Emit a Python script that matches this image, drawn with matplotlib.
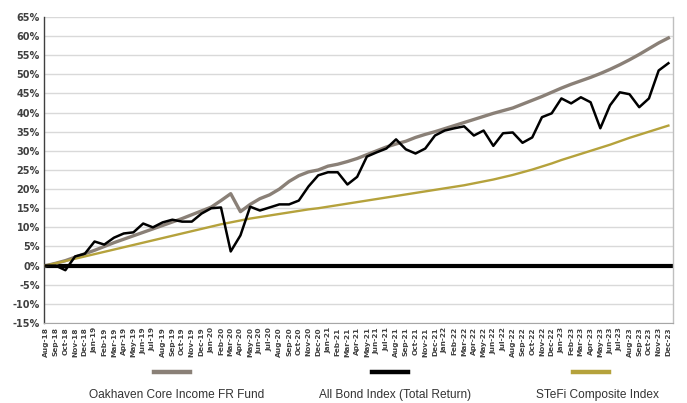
import matplotlib
matplotlib.use("Agg")
import matplotlib.pyplot as plt
from matplotlib.lines import Line2D

months = ["Aug-18","Sep-18","Oct-18","Nov-18","Dec-18",
          "Jan-19","Feb-19","Mar-19","Apr-19","May-19","Jun-19","Jul-19","Aug-19","Sep-19","Oct-19","Nov-19","Dec-19",
          "Jan-20","Feb-20","Mar-20","Apr-20","May-20","Jun-20","Jul-20","Aug-20","Sep-20","Oct-20","Nov-20","Dec-20",
          "Jan-21","Feb-21","Mar-21","Apr-21","May-21","Jun-21","Jul-21","Aug-21","Sep-21","Oct-21","Nov-21","Dec-21",
          "Jan-22","Feb-22","Mar-22","Apr-22","May-22","Jun-22","Jul-22","Aug-22","Sep-22","Oct-22","Nov-22","Dec-22",
          "Jan-23","Feb-23","Mar-23","Apr-23","May-23","Jun-23","Jul-23","Aug-23","Sep-23","Oct-23","Nov-23","Dec-23"]

oakhaven = [0, 0.6, 1.3, 2.2, 3.1, 4.0, 5.0, 6.0, 6.9, 7.8, 8.7, 9.6, 10.5, 11.4, 12.3, 13.3, 14.3,
            15.3, 17.0, 18.8, 14.1, 16.0, 17.5, 18.5, 20.0, 22.0, 23.5, 24.5, 25.0, 26.0, 26.5, 27.2,
            28.0, 29.0, 30.0, 31.0, 31.8, 32.5, 33.5, 34.3, 35.0, 35.8, 36.6, 37.4, 38.2, 39.0, 39.8,
            40.5, 41.2, 42.2, 43.2, 44.2, 45.3, 46.4, 47.4, 48.3, 49.2, 50.2, 51.3, 52.5, 53.8, 55.2,
            56.7, 58.2, 59.5]

all_bond = [0, 0, -1.2, 2.4, 3.1, 6.3, 5.5, 7.3, 8.4, 8.7, 11.0, 10.0, 11.3, 12.0, 11.5, 11.5, 13.6,
            15.0, 15.2, 3.7, 7.9, 15.4, 14.4, 15.2, 16.0, 16.0, 17.0, 20.7, 23.6, 24.4, 24.4, 21.2,
            23.2, 28.5, 29.6, 30.6, 33.0, 30.4, 29.3, 30.6, 34.0, 35.3, 35.9, 36.4, 34.0, 35.3, 31.3,
            34.6, 34.8, 32.1, 33.5, 38.8, 39.8, 43.7, 42.4, 44.0, 42.7, 35.9, 41.9, 45.3, 44.8, 41.4,
            43.7, 51.0, 52.9]

stefi = [0, 0.6, 1.2, 1.8, 2.4, 3.0, 3.6, 4.2, 4.8, 5.4, 6.0, 6.6, 7.2, 7.8, 8.4, 9.0, 9.6,
         10.2, 10.8, 11.3, 11.8, 12.3, 12.7, 13.1, 13.5, 13.9, 14.3, 14.7, 15.0, 15.4, 15.8, 16.2,
         16.6, 17.0, 17.4, 17.8, 18.2, 18.6, 19.0, 19.4, 19.8, 20.2, 20.6, 21.0, 21.5, 22.0, 22.5,
         23.1, 23.7, 24.4, 25.1, 25.9, 26.7, 27.6, 28.4, 29.2, 30.0, 30.8, 31.6, 32.5, 33.4, 34.2,
         35.0, 35.8, 36.6]

series_names = ["Oakhaven Core Income FR Fund", "All Bond Index (Total Return)", "STeFi Composite Index"]
colors = ["#8A8077", "#000000", "#B5A23C"]
y_ticks = list(range(-15, 66, 5))

fig = plt.figure(figsize=(6.87, 4.03), dpi=100)
ax = fig.add_axes([0.064, 0.1985, 0.916, 0.7595])

x = list(range(len(months)))
ax.set_xlim(-0.2, 64.5)
ax.set_ylim(-15, 65)

for yv in y_ticks:
    ax.axhline(yv, color="#D9D9D9", lw=1.0, zorder=0)
ax.axhline(0, color="#000000", lw=3.0, zorder=1)

ax.plot(x, oakhaven, color=colors[0], lw=2.4, zorder=3, solid_joinstyle="round")
ax.plot(x, stefi, color=colors[2], lw=1.7, zorder=3, solid_joinstyle="round")
ax.plot(x, all_bond, color=colors[1], lw=1.8, zorder=4, solid_joinstyle="round")

ax.set_yticks(y_ticks)
ax.set_yticklabels([f"{v}%" for v in y_ticks], fontsize=7, color="#404040", fontweight="bold")
ax.set_xticks(x)
ax.set_xticklabels(months, rotation=90, fontsize=5.3, color="#404040", fontweight="bold")
ax.tick_params(axis="both", length=0, pad=3)

ax.spines["top"].set_visible(False)
ax.spines["left"].set_color("#404040")
ax.spines["left"].set_linewidth(1.0)
ax.spines["bottom"].set_color("#A6A6A6")
ax.spines["right"].set_color("#BFBFBF")
ax.spines["right"].set_linewidth(1.0)

# legend below plot: handle above label
handle_x = [172 / 687, 390 / 687, 591 / 687]
text_x = [177 / 687, 395 / 687, 598 / 687]
hw = 18 / 687
for name, c, hx, tx in zip(series_names, colors, handle_x, text_x):
    fig.add_artist(Line2D([hx - hw, hx + hw], [1 - 372 / 403] * 2, color=c, lw=3.2,
                          transform=fig.transFigure))
    fig.text(tx, 1 - 395 / 403, name, ha="center", va="center", fontsize=8.6,
             color="#333333", family=["Liberation Sans", "DejaVu Sans"])

fig.savefig("out.png", dpi=100)
